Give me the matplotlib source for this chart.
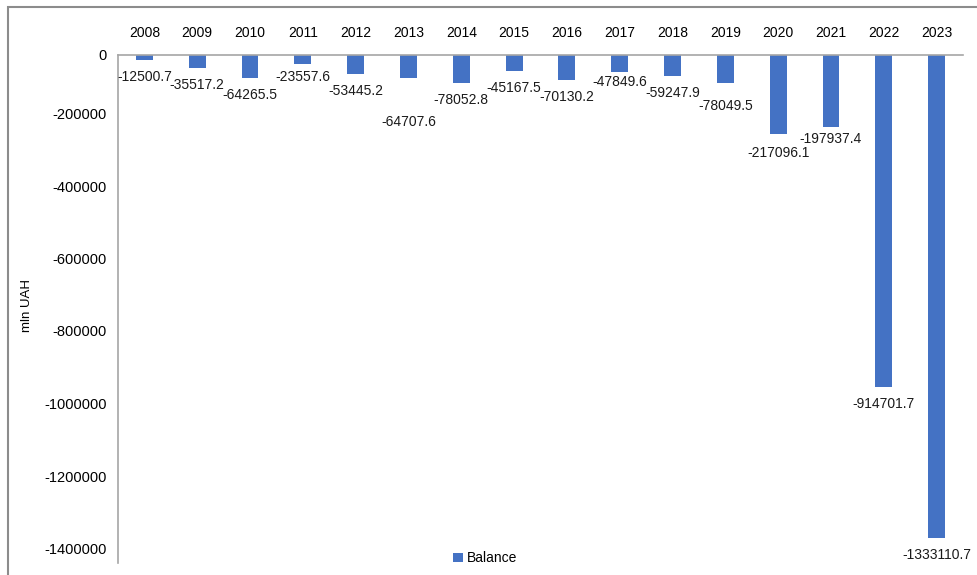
import matplotlib.pyplot as plt
import matplotlib.transforms as mtransforms
from matplotlib.patches import Rectangle
import numpy as np

plt.rcParams['font.family'] = ['Liberation Sans', 'DejaVu Sans']

years = ["2008", "2009", "2010", "2011", "2012", "2013", "2014", "2015",
         "2016", "2017", "2018", "2019", "2020", "2021", "2022", "2023"]
balance = [-12500.7, -35517.2, -64265.5, -23557.6, -53445.2, -64707.6,
           -78052.8, -45167.5, -70130.2, -47849.6, -59247.9, -78049.5,
           -217096.1, -197937.4, -914701.7, -1333110.7]
yticks = [0, -200000, -400000, -600000, -800000, -1000000, -1200000, -1400000]

# extra drop (pixels) of some value labels, as placed in the original
label_drop = {"2008": 0, "2011": -4, "2013": 27, "2017": -7, "2019": 6,
              "2020": 2, "2021": -5}

bar_color = "#4472C4"
axis_gray = "#A6A6A6"

fig = plt.figure(figsize=(9.77, 5.75), dpi=100)
ax = fig.add_axes([118 / 977, 1 - 562.5 / 575, 845 / 977, 507.5 / 575])

x = np.arange(len(years))
bars = ax.bar(x, balance, width=0.32, color=bar_color, label="Balance")

ax.set_xlim(-0.5, len(years) - 0.5)
ax.set_ylim(-1400000, 0)

ax.xaxis.tick_top()
ax.set_xticks(x)
ax.set_xticklabels(years, fontsize=10)
ax.tick_params(axis="x", length=0, pad=11)

ax.set_yticks(yticks)
ax.set_yticklabels([str(v) for v in yticks], fontsize=10.5)
ax.tick_params(axis="y", length=0, pad=8)
# the original's tick labels sit a bit above their gridline positions
shift = mtransforms.ScaledTranslation(0, 14 / 100, fig.dpi_scale_trans)
for lab in ax.get_yticklabels()[1:]:
    lab.set_transform(lab.get_transform() + shift)

for s in ["right", "bottom"]:
    ax.spines[s].set_visible(False)
for s in ["left", "top"]:
    ax.spines[s].set_color(axis_gray)
    ax.spines[s].set_linewidth(1.2)

ax.set_ylabel("mln UAH", fontsize=9.5)
ax.yaxis.set_label_coords(-0.1006, 0.507)

for i, (yr, v) in enumerate(zip(years, balance)):
    drop = 17 + label_drop.get(yr, 0)
    ax.annotate(f"{v:.1f}", xy=(i, v), xytext=(0, -drop * 0.72),
                textcoords="offset points", ha="center", va="center",
                fontsize=10, color="#1a1a1a")

ax.legend(loc="lower center", bbox_to_anchor=(0.435, -0.03), frameon=False,
          fontsize=10, handlelength=0.7, handleheight=0.7, handletextpad=0.3)

# chart-area border of the original
fig.patches.append(Rectangle((8 / 977, -0.1), 1.2, (1 - 6.5 / 575) + 0.1,
                             transform=fig.transFigure, fill=False,
                             edgecolor="#8C8C8C", linewidth=1.5))

fig.savefig("out.png", dpi=100)
